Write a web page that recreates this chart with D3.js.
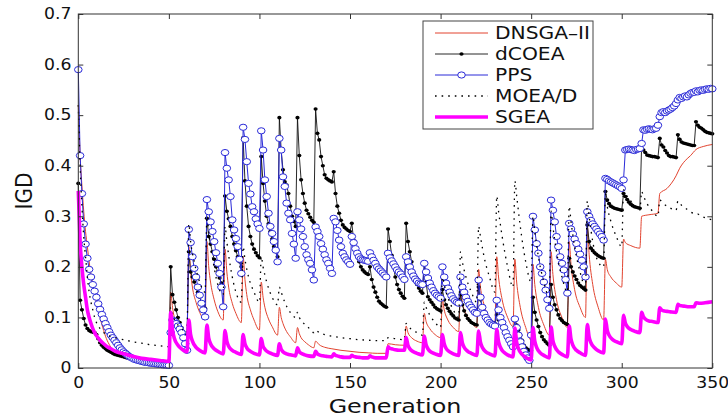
<!DOCTYPE html>
<html><head><meta charset="utf-8">
<script src="https://cdn.jsdelivr.net/npm/d3@7"></script>
<style>
body{margin:0;background:#fff}
svg{display:block}
text{font-family:"DejaVu Sans",Arial,sans-serif;fill:#111}
</style>
</head><body>
<svg id="chart" width="728" height="418"></svg>
<script>
// ---------------- DATA ----------------
const seriesNames = ["DNSGA\u2013II", "dCOEA", "PPS", "MOEA/D", "SGEA"];
const xTicks = [0, 50, 100, 150, 200, 250, 300, 350];
const yTicks = [0, 0.1, 0.2, 0.3, 0.4, 0.5, 0.6, 0.7];

// dCOEA: one value per generation 0..350
const dcoea = [
.365,.134,.115,.098,.085,.078,.074,.072,.071,.07,.066,
.058,.05,.045,.041,.038,.035,.033,.031,.029,.027,
.026,.025,.024,.023,.022,.021,.02,.019,.018,.018,
.017,.017,.016,.016,.015,.015,.014,.014,.013,.013,
.013,.012,.012,.012,.011,.011,.011,.01,.01,.01,
.2,.145,.13,.115,.1,.09,.08,.072,.065,.058,
.23,.19,.18,.17,.16,.15,.14,.13,.125,.118,
.296,.26,.245,.23,.215,.2,.19,.178,.168,.16,
.34,.31,.295,.28,.26,.245,.232,.22,.21,.2,
.455,.37,.32,.28,.26,.245,.235,.228,.222,.218,
.418,.365,.33,.3,.285,.27,.255,.24,.23,.22,
.495,.43,.392,.368,.362,.345,.32,.3,.29,.28,
.495,.42,.372,.345,.326,.312,.305,.298,.292,.288,
.512,.464,.451,.418,.4,.382,.375,.372,.37,.368,
.388,.345,.32,.306,.292,.283,.278,.275,.272,.27,
.286,.253,.235,.22,.21,.2,.194,.19,.187,.185,
.2,.175,.16,.15,.14,.132,.128,.125,.122,.12,
.275,.25,.223,.2,.18,.165,.155,.148,.142,.138,
.286,.25,.23,.21,.19,.174,.165,.158,.152,.148,
.204,.17,.141,.135,.13,.125,.12,.117,.115,.113,
.155,.135,.125,.118,.112,.107,.103,.099,.097,.095,
.145,.125,.113,.104,.098,.094,.09,.088,.086,.085,
.16,.135,.12,.11,.103,.098,.095,.092,.09,.088,
.105,.095,.088,.082,.075,.068,.062,.057,.053,.05,
.098,.085,.075,.065,.055,.045,.04,.037,.035,.034,
.14,.11,.095,.082,.07,.062,.056,.052,.048,.045,
.165,.14,.125,.115,.105,.098,.094,.09,.088,.086,
.217,.2,.19,.182,.175,.168,.163,.16,.157,.154,
.283,.25,.237,.232,.228,.225,.222,.22,.218,.217,
.349,.332,.325,.32,.318,.316,.315,.314,.313,.312,
.345,.339,.333,.328,.324,.321,.319,.318,.317,.316,
.441,.431,.426,.421,.42,.419,.418,.418,.417,.416,
.454,.441,.437,.43,.425,.42,.418,.418,.417,.416,
.461,.452,.447,.445,.444,.443,.442,.441,.44,.44,
.487,.48,.476,.474,.471,.468,.466,.465,.464,.463
];

// PPS: one value per generation 0..350
const pps = [
.59,.42,.345,.285,.245,.217,.195,.18,.165,.152,.14,
.127,.116,.106,.097,.088,.08,.072,.065,.06,.055,
.05,.045,.04,.036,.032,.029,.026,.023,.021,.019,
.017,.016,.015,.014,.013,.012,.011,.011,.01,.0095,
.009,.0085,.008,.0075,.007,.0065,.006,.006,.0055,.005,
.07,.095,.092,.088,.083,.077,.07,.06,.048,.035,
.274,.248,.22,.197,.18,.16,.144,.128,.115,.101,
.333,.309,.289,.27,.25,.228,.207,.187,.16,.121,
.426,.395,.372,.339,.293,.273,.256,.24,.215,.187,
.476,.452,.408,.365,.344,.319,.309,.295,.285,.276,
.469,.431,.372,.339,.306,.28,.266,.25,.233,.21,
.454,.431,.378,.359,.326,.306,.293,.266,.245,.217,
.309,.293,.275,.26,.24,.224,.214,.207,.194,.174,
.279,.27,.26,.246,.235,.224,.214,.207,.197,.187,
.296,.289,.272,.253,.24,.227,.22,.214,.21,.205,
.26,.248,.236,.227,.22,.216,.214,.213,.212,.211,
.228,.22,.213,.207,.2,.196,.192,.188,.184,.18,
.227,.218,.212,.206,.2,.194,.19,.186,.18,.175,
.22,.21,.2,.19,.182,.176,.172,.168,.166,.165,
.207,.19,.178,.168,.16,.153,.148,.144,.141,.138,
.2,.18,.168,.158,.15,.143,.137,.133,.13,.128,
.18,.16,.15,.14,.132,.125,.12,.115,.11,.108,
.174,.14,.12,.108,.1,.095,.09,.087,.085,.083,
.134,.115,.1,.09,.08,.07,.062,.055,.048,.042,
.097,.08,.065,.052,.042,.033,.026,.02,.015,.065,
.3,.273,.246,.227,.2,.187,.17,.154,.135,.118,
.332,.312,.289,.26,.24,.22,.207,.194,.175,.148,
.286,.275,.265,.255,.246,.235,.225,.213,.2,.18,
.309,.3,.292,.285,.28,.275,.27,.265,.26,.253,
.375,.373,.37,.368,.366,.364,.362,.36,.358,.355,
.372,.431,.432,.433,.432,.431,.43,.432,.433,.434,
.444,.471,.47,.472,.473,.472,.471,.473,.474,.48,
.497,.505,.507,.505,.508,.51,.512,.515,.518,.523,
.53,.535,.533,.536,.538,.536,.54,.543,.545,.545,
.548,.546,.549,.55,.549,.551,.552,.551,.553,.552
];

// SGEA: [generation, IGD]
const sgea = [
[0,.35],[1,.25],[2,.2],[3,.165],[4,.14],[5,.115],[6,.1],[7,.088],[8,.078],[9,.07],[10,.064],[12,.055],[14,.048],[16,.042],[18,.038],[20,.034],[23,.03],[26,.027],[30,.023],[35,.019],[40,.017],[45,.015],[50,.013],
[51,.11],[52,.075],[53,.059],[55,.045],[57,.038],[60,.032],
[61,.095],[62,.066],[63,.053],[65,.041],[67,.035],[70,.03],
[71,.085],[72,.059],[73,.048],[75,.038],[77,.033],[80,.028],
[81,.074],[82,.053],[83,.043],[85,.035],[87,.031],[90,.027],
[91,.066],[92,.048],[93,.04],[95,.033],[97,.029],[100,.026],
[101,.058],[102,.043],[103,.037],[105,.031],[107,.028],[110,.025],
[111,.048],[112,.037],[113,.032],[115,.028],[117,.026],[120,.024],
[121,.04],[122,.032],[123,.029],[125,.026],[127,.024],[130,.023],
[131,.033],[132,.028],[133,.026],[135,.024],[137,.023],[140,.022],
[141,.028],[142,.025],[143,.024],[145,.022],[147,.021],[150,.021],
[151,.025],[152,.023],[153,.022],[155,.021],[157,.02],[160,.02],
[161,.024],[162,.022],[163,.021],[165,.02],[167,.02],[170,.02],
[171,.042],[172,.039],[173,.038],[175,.036],[177,.035],[180,.035],
[181,.06],[182,.045],[183,.038],[185,.032],[187,.029],[190,.026],
[191,.063],[192,.046],[193,.038],[195,.031],[197,.028],[200,.025],
[201,.066],[202,.048],[203,.039],[205,.032],[207,.028],[210,.025],
[211,.07],[212,.05],[213,.041],[215,.033],[217,.029],[220,.025],
[221,.073],[222,.051],[223,.041],[225,.032],[227,.028],[230,.024],
[231,.076],[232,.052],[233,.041],[235,.031],[237,.026],[240,.022],
[241,.079],[242,.051],[243,.038],[245,.027],[247,.021],[250,.016],
[251,.08],[252,.053],[253,.041],[255,.03],[257,.025],[260,.02],
[261,.081],[262,.054],[263,.043],[265,.032],[267,.027],[270,.022],
[271,.083],[272,.057],[273,.045],[275,.035],[277,.03],[280,.025],
[281,.086],[282,.061],[283,.05],[285,.04],[287,.034],[290,.03],
[291,.097],[292,.075],[293,.065],[295,.056],[297,.052],[300,.048],
[301,.104],[302,.089],[303,.082],[305,.076],[307,.073],[310,.07],
[311,.11],[312,.101],[313,.097],[315,.093],[317,.092],[320,.09],
[321,.119],[322,.115],[323,.113],[325,.112],[327,.111],[330,.11],
[331,.126],[332,.124],[333,.123],[335,.122],[337,.121],[340,.121],
[341,.129],[343,.128],[346,.129],[350,.131]
];

// DNSGA-II: [generation, IGD]
const dnsga = [
[0,.52],[1,.42],[2,.36],[3,.31],[4,.27],[5,.24],[6,.21],[7,.185],[8,.165],[9,.15],[10,.13],[11,.114],[12,.1],[13,.086],[14,.074],[15,.063],[16,.054],[17,.047],[18,.041],[19,.037],[20,.033],[22,.029],[24,.026],[27,.022],[30,.019],[35,.016],[40,.014],[45,.012],[50,.011],
[51,.15],[52,.12],[53,.1],[55,.08],[57,.07],[60,.06],
[61,.24],[62,.19],[63,.16],[65,.13],[67,.11],[70,.095],
[71,.25],[72,.2],[73,.17],[75,.135],[77,.112],[80,.095],
[81,.235],[82,.19],[83,.16],[85,.128],[87,.108],[90,.09],
[91,.22],[92,.175],[93,.145],[95,.115],[97,.095],[100,.075],
[101,.17],[102,.14],[103,.12],[105,.097],[107,.082],[110,.065],
[111,.12],[112,.1],[113,.088],[115,.072],[117,.062],[120,.05],
[121,.08],[122,.068],[123,.06],[125,.052],[127,.046],[130,.04],
[131,.053],[133,.046],[136,.041],[140,.038],[145,.035],[150,.033],[155,.031],[160,.03],[165,.029],[170,.029],
[171,.048],[175,.046],[180,.045],
[181,.083],[182,.07],[184,.06],[187,.053],[190,.05],
[191,.108],[192,.092],[194,.078],[197,.066],[200,.06],
[201,.135],[202,.115],[204,.095],[207,.08],[210,.072],
[211,.155],[212,.13],[214,.107],[217,.09],[220,.08],
[221,.195],[222,.16],[224,.125],[227,.1],[230,.088],
[231,.22],[232,.18],[234,.135],[237,.1],[240,.082],
[241,.215],[242,.17],[244,.12],[247,.08],[250,.055],
[251,.205],[252,.165],[254,.12],[257,.085],[260,.065],
[261,.23],[262,.185],[264,.135],[267,.1],[270,.08],
[271,.25],[272,.205],[274,.155],[277,.12],[280,.1],
[281,.28],[282,.225],[284,.165],[287,.12],[290,.095],
[291,.215],[292,.195],[294,.18],[297,.168],[300,.16],
[301,.255],[302,.248],[305,.242],[310,.237],
[311,.3],[315,.303],[320,.306],
[321,.345],[325,.355],[330,.38],[332,.395],[335,.41],[338,.42],[341,.432],[345,.438],[350,.442]
];

// MOEA/D: [generation, IGD]
const moead = [
[0,.52],[1,.4],[2,.32],[3,.26],[4,.22],[5,.18],[6,.15],[7,.13],[8,.115],[9,.1],[10,.09],[12,.078],[14,.07],[16,.065],[18,.062],[20,.06],[25,.056],[30,.052],[35,.049],[40,.046],[45,.044],[50,.042],
[51,.12],[52,.105],[54,.09],[57,.078],[60,.07],
[61,.285],[62,.25],[64,.21],[67,.17],[70,.15],
[71,.3],[72,.27],[74,.22],[77,.165],[80,.145],
[81,.28],[82,.25],[84,.2],[87,.15],[90,.13],
[91,.24],[92,.215],[94,.18],[97,.15],[100,.13],
[101,.22],[102,.2],[104,.17],[107,.14],[110,.125],
[111,.16],[112,.15],[114,.13],[117,.11],[120,.1],
[121,.11],[122,.1],[124,.09],[127,.08],[130,.07],
[131,.075],[133,.07],[136,.066],[140,.063],[145,.06],[150,.058],[155,.056],[160,.055],[165,.054],[170,.054],
[171,.06],[175,.058],[180,.056],
[181,.088],[182,.083],[184,.076],[187,.07],[190,.065],
[191,.13],[192,.12],[194,.105],[197,.09],[200,.08],
[201,.18],[202,.165],[204,.14],[207,.115],[210,.1],
[211,.23],[212,.21],[214,.18],[217,.15],[220,.13],
[221,.28],[222,.26],[224,.22],[227,.18],[230,.15],
[231,.34],[232,.31],[234,.26],[237,.2],[240,.16],
[241,.37],[242,.34],[244,.28],[247,.21],[250,.17],
[251,.3],[252,.27],[254,.22],[257,.17],[260,.14],
[261,.31],[262,.28],[264,.23],[267,.18],[270,.15],
[271,.32],[272,.29],[274,.24],[277,.19],[280,.16],
[281,.33],[282,.3],[284,.25],[287,.21],[290,.2],
[291,.345],[292,.32],[294,.29],[297,.26],[300,.24],
[301,.352],[302,.345],[304,.335],[307,.322],[310,.312],
[311,.349],[312,.34],[314,.325],[317,.31],[320,.3],
[321,.332],[323,.325],[326,.318],[330,.312],
[331,.33],[333,.322],[336,.314],[340,.306],
[341,.306],[344,.3],[347,.296],[350,.293]
];

// ---------------- CHART ----------------
const svg = d3.select("#chart");
const W = 728, H = 418;
svg.append("rect").attr("width", W).attr("height", H).attr("fill", "#fff");

const x = d3.scaleLinear().domain([0, 350]).range([78.3, 712.3]);
const y = d3.scaleLinear().domain([0, 0.7]).range([368, 14]);

const colors = {dnsga: "#e2432f", dcoea: "#000", pps: "#2a2ad8", moead: "#000", sgea: "#ff00ff"};

const line = d3.line().x(d => x(d[0])).y(d => y(d[1]));
const smooth = d3.line().x(d => x(d[0])).y(d => y(d[1])).curve(d3.curveMonotoneX);

const plot = svg.append("g");

// DNSGA-II
plot.append("path").datum(dnsga).attr("d", smooth)
  .attr("fill", "none").attr("stroke", colors.dnsga).attr("stroke-width", 1);

// dCOEA
const dcoeaPts = dcoea.map((v, i) => [i, v]);
plot.append("path").datum(dcoeaPts).attr("d", line)
  .attr("fill", "none").attr("stroke", "#111").attr("stroke-width", 0.9);
plot.append("g").selectAll("ellipse").data(dcoeaPts).join("ellipse")
  .attr("cx", d => x(d[0])).attr("cy", d => y(d[1]))
  .attr("rx", 2.1).attr("ry", 1.8).attr("fill", "#000");

// PPS
const ppsPts = pps.map((v, i) => [i, v]);
plot.append("path").datum(ppsPts).attr("d", line)
  .attr("fill", "none").attr("stroke", colors.pps).attr("stroke-width", 1);
plot.append("g").selectAll("ellipse").data(ppsPts).join("ellipse")
  .attr("cx", d => x(d[0])).attr("cy", d => y(d[1]))
  .attr("rx", 3.8).attr("ry", 3.1)
  .attr("fill", "#fff").attr("stroke", colors.pps).attr("stroke-width", 1);

// MOEA/D
plot.append("path").datum(moead).attr("d", smooth)
  .attr("fill", "none").attr("stroke", "#000").attr("stroke-width", 1.3)
  .attr("stroke-dasharray", "1.6,5");

// SGEA
plot.append("path").datum(sgea).attr("d", smooth)
  .attr("fill", "none").attr("stroke", colors.sgea).attr("stroke-width", 3.6)
  .attr("stroke-linejoin", "round");

// ---------------- AXES ----------------
const axisColor = "#333";
const sx = 1.15;
function styleAxis(g) {
  g.select(".domain").remove();
  g.selectAll(".tick line").attr("stroke", axisColor);
  g.selectAll(".tick text").attr("font-size", 15).attr("fill", "#111")
    .attr("font-family", '"DejaVu Sans",Arial,sans-serif');
}
const fmt = d => d === 0 ? "0" : d3.format(".1f")(d);

svg.append("g").attr("transform", "translate(0,368)")
  .call(d3.axisBottom(x).tickValues(xTicks).tickSize(-5).tickPadding(9).tickFormat(d3.format("d")))
  .call(styleAxis)
  .call(g => g.selectAll(".tick text").attr("transform", `scale(${sx},1)`));
svg.append("g").attr("transform", "translate(0,14)")
  .call(d3.axisTop(x).tickValues(xTicks).tickSize(-5).tickFormat(""))
  .call(styleAxis);
svg.append("g").attr("transform", "translate(78.3,0)")
  .call(d3.axisLeft(y).tickValues(yTicks).tickSize(-5).tickPadding(6).tickFormat(fmt))
  .call(styleAxis)
  .call(g => g.selectAll(".tick text").attr("transform", `scale(${sx},1)`));
svg.append("g").attr("transform", "translate(712.3,0)")
  .call(d3.axisRight(y).tickValues(yTicks).tickSize(-5).tickFormat(""))
  .call(styleAxis);

svg.append("rect").attr("x", x(0)).attr("y", y(0.7))
  .attr("width", x(350) - x(0)).attr("height", y(0) - y(0.7))
  .attr("fill", "none").attr("stroke", axisColor).attr("stroke-width", 1);

// axis labels
svg.append("text").text("Generation")
  .attr("transform", `translate(395,413) scale(1.19,1)`)
  .attr("text-anchor", "middle").attr("font-size", 20);
svg.append("text").text("IGD")
  .attr("transform", `translate(31.5,191) rotate(-90) scale(1,1.19)`)
  .attr("text-anchor", "middle").attr("font-size", 20);

// ---------------- LEGEND ----------------
const lg = svg.append("g");
lg.append("rect").attr("x", 423).attr("y", 21).attr("width", 170).attr("height", 108)
  .attr("fill", "#fff").attr("stroke", "#444").attr("stroke-width", 1);
const rowsY = [33, 54, 75, 96, 117];
const x1 = 435, x2 = 488, xm = (x1 + x2) / 2;
lg.append("line").attr("x1", x1).attr("x2", x2).attr("y1", rowsY[0]).attr("y2", rowsY[0])
  .attr("stroke", colors.dnsga).attr("stroke-width", 1);
lg.append("line").attr("x1", x1).attr("x2", x2).attr("y1", rowsY[1]).attr("y2", rowsY[1])
  .attr("stroke", "#111").attr("stroke-width", 0.9);
lg.append("ellipse").attr("cx", xm).attr("cy", rowsY[1]).attr("rx", 2.1).attr("ry", 1.8).attr("fill", "#000");
lg.append("line").attr("x1", x1).attr("x2", x2).attr("y1", rowsY[2]).attr("y2", rowsY[2])
  .attr("stroke", colors.pps).attr("stroke-width", 1);
lg.append("ellipse").attr("cx", xm).attr("cy", rowsY[2]).attr("rx", 3.8).attr("ry", 3.1)
  .attr("fill", "#fff").attr("stroke", colors.pps);
lg.append("line").attr("x1", x1).attr("x2", x2).attr("y1", rowsY[3]).attr("y2", rowsY[3])
  .attr("stroke", "#000").attr("stroke-width", 1.3).attr("stroke-dasharray", "1.6,5");
lg.append("line").attr("x1", x1).attr("x2", x2).attr("y1", rowsY[4]).attr("y2", rowsY[4])
  .attr("stroke", colors.sgea).attr("stroke-width", 3.6);

seriesNames.forEach((name, i) => {
  lg.append("text").text(name)
    .attr("transform", `translate(495,${rowsY[i]}) scale(1.19,1)`)
    .attr("dy", "0.36em").attr("font-size", 17);
});
</script>
</body></html>
